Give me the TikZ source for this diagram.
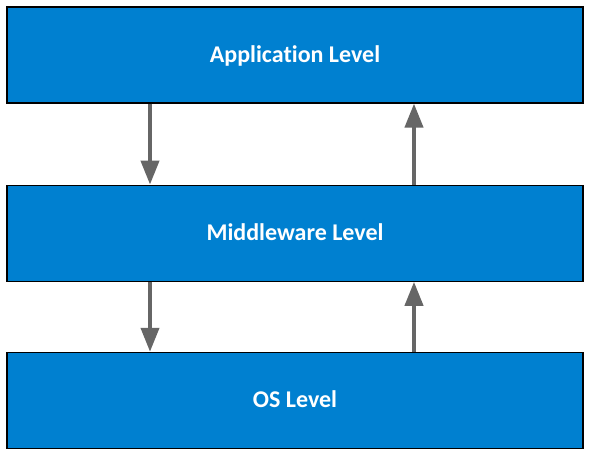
\documentclass[tikz,border=0pt]{standalone}
\usepackage{fontspec}
\setmainfont[Ligatures=CommonOff]{Carlito}
\usetikzlibrary{positioning,arrows.meta}
\definecolor{levelblue}{RGB}{0,128,208}
\definecolor{flowgray}{RGB}{102,102,102}
\begin{document}
\begin{tikzpicture}[x=1pt,y=1pt,
    level/.style={draw=black, line width=1.2pt, fill=levelblue, text=white,
      minimum width=576pt, minimum height=96pt, inner sep=0pt, text depth=2pt,
      font=\fontsize{24}{28}\selectfont\bfseries},
    flow/.style={draw=flowgray, line width=4pt, -{Triangle[width=18pt,length=24pt]}}]

    \useasboundingbox (0,0) rectangle (590,455);

    % the three levels, top to bottom
    \node[level] (app) at (295,400) {Application Level};
    \node[level, below=81pt of app] (mid) {Middleware Level};
    \node[level, below=70pt of mid] (os) {OS Level};

    % calls going down on the left, results coming back up on the right
    \draw[flow] ([xshift=-145pt]app.south) -- ([xshift=-145pt]mid.north);
    \draw[flow] ([xshift=-145pt]mid.south) -- ([xshift=-145pt]os.north);
    \draw[flow] ([xshift=119pt]mid.north) -- ([xshift=119pt]app.south);
    \draw[flow] ([xshift=119pt]os.north) -- ([xshift=119pt]mid.south);

\end{tikzpicture}
\end{document}
